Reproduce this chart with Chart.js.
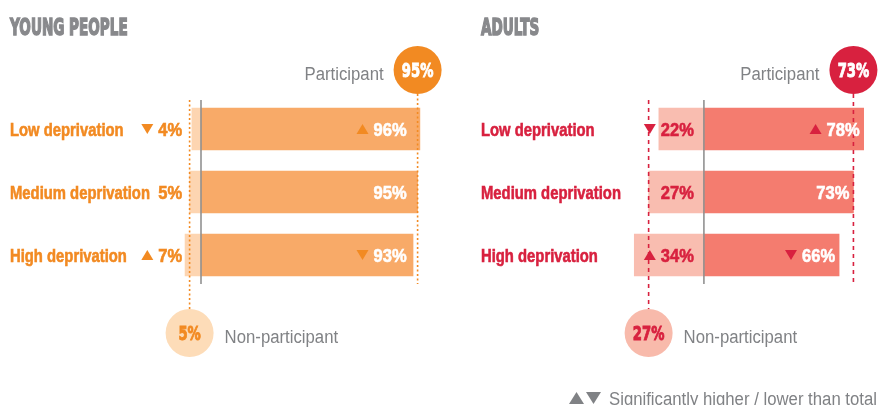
<!DOCTYPE html>
<html>
<head>
<meta charset="utf-8">
<script src="https://cdn.jsdelivr.net/npm/chart.js@4"></script>
<style>
  html, body { margin: 0; padding: 0; background: #fff; }
  #wrap { position: relative; width: 878px; height: 405px; overflow: hidden; }
  #wrap canvas { position: absolute; left: 0; top: 0; }
</style>
</head>
<body>
<div id="wrap">
  <canvas id="young" width="878" height="405"></canvas>
  <canvas id="adults" width="878" height="405"></canvas>
</div>
<script>
// data
const categories = ['Low deprivation', 'Medium deprivation', 'High deprivation'];

const youngParticipant = [96, 95, 93];
const youngNonParticipant = [4, 5, 7];
const youngParticipantSig = [1, 0, -1];     // 1 = higher, -1 = lower than total
const youngNonParticipantSig = [-1, 0, 1];
const youngTotalParticipant = 95;
const youngTotalNonParticipant = 5;

const adultParticipant = [78, 73, 66];
const adultNonParticipant = [22, 27, 34];
const adultParticipantSig = [1, 0, -1];
const adultNonParticipantSig = [-1, 0, 1];
const adultTotalParticipant = 73;
const adultTotalNonParticipant = 27;

const GREY = '#808285';

// small text helper, sx squeezes the text to look like a condensed face
function txt(ctx, s, x, y, font, color, align, sx, stroke) {
  ctx.save();
  ctx.font = font;
  ctx.fillStyle = color;
  ctx.textAlign = align || 'left';
  ctx.textBaseline = 'alphabetic';
  ctx.translate(x, y);
  ctx.scale(sx || 1, 1);
  ctx.fillText(s, 0, 0);
  if (stroke) {
    ctx.strokeStyle = color;
    ctx.lineWidth = stroke;
    ctx.strokeText(s, 0, 0);
  }
  const w = ctx.measureText(s).width * (sx || 1);
  ctx.restore();
  return w;
}

function triangle(ctx, right, cy, dir, color, w = 12, h = 10) {
  ctx.save();
  ctx.fillStyle = color;
  ctx.beginPath();
  if (dir > 0) {
    ctx.moveTo(right - w, cy + h / 2);
    ctx.lineTo(right, cy + h / 2);
    ctx.lineTo(right - w / 2, cy - h / 2);
  } else {
    ctx.moveTo(right - w, cy - h / 2);
    ctx.lineTo(right, cy - h / 2);
    ctx.lineTo(right - w / 2, cy + h / 2);
  }
  ctx.closePath();
  ctx.fill();
  ctx.restore();
}

function vline(ctx, x, y1, y2, color, width, dash) {
  ctx.save();
  ctx.strokeStyle = color;
  ctx.lineWidth = width;
  ctx.setLineDash(dash || []);
  ctx.beginPath();
  ctx.moveTo(x, y1);
  ctx.lineTo(x, y2);
  ctx.stroke();
  ctx.restore();
}

function circle(ctx, cx, cy, r, fill, label, color) {
  ctx.save();
  ctx.fillStyle = fill;
  ctx.beginPath();
  ctx.arc(cx, cy, r, 0, Math.PI * 2);
  ctx.fill();
  ctx.restore();
  txt(ctx, label, cx, cy + 7, 'bold 20px "DejaVu Sans"', color, 'center', 0.66, 1);
}

const LABEL_FONT = 'bold 19px "Liberation Sans"';
const VALUE_FONT = 'bold 19px "Liberation Sans"';
const PLAIN_FONT = '18px "Liberation Sans"';

const decor = {
  id: 'decor',
  afterDatasetsDraw(chart, args, o) {
    const ctx = chart.ctx;
    const x = chart.scales.x;
    const y = chart.scales.y;
    const area = chart.chartArea;
    const top = area.top + 2.5, bottom = area.bottom - 2.5;
    const r = 24;
    const pCy = 70, nCy = 333;

    // title
    txt(ctx, o.title, o.labelX, 35, 'bold 23px "DejaVu Sans"', '#88898C', 'left', 0.59, 1.6);

    // zero line and total lines
    const zero = x.getPixelForValue(0);
    const pX = x.getPixelForValue(o.totalPart);
    const nX = x.getPixelForValue(-o.totalNon);
    vline(ctx, zero, top, bottom, '#8A8A8A', 1.5);
    vline(ctx, pX, pCy + r, bottom, o.accent, 1.6, o.dash);
    vline(ctx, nX, top, nCy - r, o.accent, 1.6, o.dash);

    // rows
    categories.forEach((c, i) => {
      const cy = y.getPixelForValue(i);
      txt(ctx, c, o.labelX, cy + 7, LABEL_FONT, o.accent, 'left', 0.78, 0.6);

      // participant value
      const barEnd = x.getPixelForValue(o.part[i]);
      const pr = o.partRight(barEnd, pX);
      const pw = txt(ctx, o.part[i] + '%', pr, cy + 7, VALUE_FONT, '#fff', 'right', 0.87, 0.6);
      if (o.partSig[i]) triangle(ctx, pr - pw - 5, cy, o.partSig[i], o.accent);

      // non-participant value
      const nr = o.nonRight(area, zero);
      const nw = txt(ctx, o.non[i] + '%', nr, cy + 7, VALUE_FONT, o.accent, 'right', 0.87, 0.6);
      if (o.nonSig[i]) triangle(ctx, nr - nw - 5, cy, o.nonSig[i], o.accent);
    });

    // total circles
    circle(ctx, pX, pCy, r, o.accent, o.totalPart + '%', '#fff');
    txt(ctx, 'Participant', pX - r - 10, 80, PLAIN_FONT, GREY, 'right', 0.93);
    circle(ctx, nX, nCy, r, o.lightCircle, o.totalNon + '%', o.accent);
    txt(ctx, 'Non-participant', nX + r + 11, 343, PLAIN_FONT, GREY, 'left', 0.93);

    if (o.legend) {
      triangle(ctx, 584, 398, 1, GREY, 15, 12);
      triangle(ctx, 601, 398, -1, GREY, 15, 12);
      txt(ctx, 'Significantly higher / lower than total', 609, 405, PLAIN_FONT, GREY, 'left', 0.93);
    }
  }
};

function makePanel(id, cfg) {
  return new Chart(document.getElementById(id), {
    type: 'bar',
    data: {
      labels: categories,
      datasets: [
        { label: 'Non-participant', data: cfg.non.map(v => -v), backgroundColor: cfg.light, borderWidth: 0, barThickness: 42 },
        { label: 'Participant', data: cfg.part, backgroundColor: cfg.dark, borderWidth: 0, barThickness: 42 }
      ]
    },
    options: {
      indexAxis: 'y',
      responsive: false,
      animation: false,
      events: [],
      layout: { padding: cfg.padding },
      scales: {
        x: { stacked: true, min: cfg.min, max: cfg.max, display: false },
        y: { stacked: true, display: false }
      },
      plugins: {
        legend: { display: false },
        tooltip: { enabled: false },
        decor: cfg
      }
    },
    plugins: [decor]
  });
}

makePanel('young', {
  title: 'YOUNG PEOPLE',
  labelX: 10,
  part: youngParticipant,
  non: youngNonParticipant,
  partSig: youngParticipantSig,
  nonSig: youngNonParticipantSig,
  totalPart: youngTotalParticipant,
  totalNon: youngTotalNonParticipant,
  dark: '#F8AA68',
  light: '#FDD5B1',
  accent: '#F28A22',
  lightCircle: '#FDDCB8',
  dash: [2, 2.5],
  min: -10,
  max: 100,
  padding: { left: 178.2, right: 449, top: 97.5, bottom: 118.5 },
  partRight: (barEnd, totalX) => totalX - 11,
  nonRight: (area, zero) => area.left + 4,
  legend: false
});

makePanel('adults', {
  title: 'ADULTS',
  labelX: 481,
  part: adultParticipant,
  non: adultNonParticipant,
  partSig: adultParticipantSig,
  nonSig: adultNonParticipantSig,
  totalPart: adultTotalParticipant,
  totalNon: adultTotalNonParticipant,
  dark: '#F47C6F',
  light: '#F9BDB0',
  accent: '#D8213F',
  lightCircle: '#F8BAAB',
  dash: [4, 4],
  min: -40,
  max: 85,
  padding: { left: 622, right: 0, top: 97.5, bottom: 118.5 },
  partRight: (barEnd, totalX) => barEnd - 4,
  nonRight: (area, zero) => zero - 10,
  legend: true
});
</script>
</body>
</html>
